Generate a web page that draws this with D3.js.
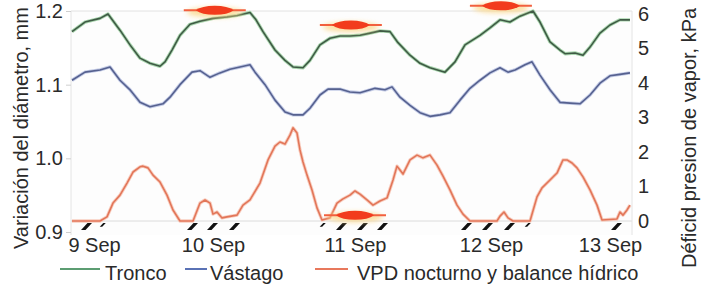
<!DOCTYPE html>
<html>
<head>
<meta charset="utf-8">
<script src="https://cdn.jsdelivr.net/npm/d3@7"></script>
<style>
  body { margin: 0; background: #fff; }
  svg text { font-family: "Liberation Sans", Arial, Helvetica, sans-serif; fill: #2a2a2a; }
</style>
</head>
<body>
<div id="chart"></div>
<script>
// hours counted from 9 Sep 00:00
var dayTicks = [0, 24, 48, 72, 96]
var dayLabels = ['9 Sep', '10 Sep', '11 Sep', '12 Sep', '13 Sep']
var diamTicks = [0.9, 1.0, 1.1, 1.2]
var vpdTicks = [0, 1, 2, 3, 4, 5, 6]
var seriesNames = ['Tronco', 'Vástago', 'VPD nocturno y balance hídrico']

// diameter variation, mm  [hour, value]
var tronco = [[-4.44,1.172],[-1.82,1.185],[1.21,1.190],[2.82,1.196],[5.24,1.174],[7.26,1.154],[9.28,1.136],[11.29,1.129],[13.31,1.125],[14.32,1.131],[15.73,1.147],[17.34,1.167],[19.36,1.182],[21.38,1.186],[24.0,1.190],[26.37,1.192],[28.06,1.194],[30.25,1.198],[31.27,1.188],[32.45,1.172],[34.48,1.147],[36.17,1.133],[37.52,1.124],[39.21,1.123],[40.39,1.133],[42.08,1.154],[43.77,1.163],[45.46,1.166],[47.15,1.166],[48.88,1.167],[50.65,1.170],[52.41,1.173],[54.18,1.172],[55.59,1.157],[57.71,1.140],[59.47,1.129],[61.24,1.123],[63.88,1.117],[65.65,1.131],[67.41,1.154],[70.06,1.167],[71.82,1.177],[73.82,1.188],[75.83,1.185],[77.85,1.193],[80.47,1.200],[81.88,1.185],[83.90,1.158],[85.92,1.147],[86.92,1.142],[88.94,1.143],[90.55,1.140],[91.97,1.151],[93.98,1.170],[96.0,1.181],[98.02,1.188],[100.03,1.188]]

var vastago = [[-4.44,1.106],[-1.82,1.117],[1.21,1.120],[3.23,1.124],[5.24,1.106],[7.26,1.093],[9.28,1.076],[11.29,1.070],[13.92,1.074],[15.33,1.083],[17.34,1.100],[19.76,1.117],[21.38,1.119],[23.40,1.110],[25.18,1.116],[26.87,1.121],[28.56,1.124],[30.25,1.127],[31.10,1.117],[32.79,1.100],[34.48,1.079],[36.17,1.063],[37.52,1.059],[39.21,1.059],[40.39,1.068],[42.08,1.086],[43.44,1.094],[45.46,1.094],[47.15,1.090],[48.88,1.089],[51.53,1.095],[53.29,1.093],[54.53,1.097],[55.94,1.083],[57.71,1.072],[59.47,1.062],[61.24,1.057],[63.0,1.059],[64.76,1.062],[66.53,1.079],[68.29,1.095],[70.06,1.106],[71.82,1.116],[73.82,1.123],[75.43,1.117],[76.84,1.120],[78.86,1.127],[80.27,1.131],[81.88,1.113],[83.90,1.093],[85.92,1.076],[87.93,1.075],[89.95,1.074],[91.97,1.086],[93.98,1.102],[96.0,1.112],[98.02,1.114],[100.03,1.116]]

// vapour pressure deficit, kPa  [hour, value]
var vpd = [[-4.44,0],[1.21,0],[2.62,0.12],[3.83,0.52],[5.24,0.75],[6.66,1.10],[7.87,1.42],[9.28,1.57],[9.88,1.59],[10.89,1.54],[11.90,1.33],[13.31,1.13],[14.72,0.75],[15.93,0.32],[17.34,0],[19.97,0],[21.38,0.52],[22.39,0.61],[23.40,0.52],[24.0,0.20],[24.68,0.26],[25.52,0.09],[26.37,0.12],[28.06,0.17],[29.07,0.46],[30.25,0.61],[31.94,1.10],[33.30,1.77],[34.48,2.17],[35.32,2.29],[36.17,2.23],[37.01,2.49],[37.52,2.70],[38.20,2.55],[38.70,2.06],[39.21,1.71],[39.89,1.33],[40.73,0.90],[41.58,0.38],[42.42,0.03],[43.77,0.09],[44.96,0.52],[45.97,0.64],[47.15,0.75],[48.0,0.87],[48.88,0.78],[50.12,0.61],[51.18,0.46],[52.41,0.58],[53.65,0.67],[54.71,1.19],[55.41,1.59],[55.94,1.48],[56.47,1.36],[57.71,1.77],[58.94,1.91],[60.0,1.83],[61.24,1.91],[62.47,1.62],[63.53,1.30],[64.76,0.90],[66.0,0.46],[67.06,0.20],[68.29,0],[73.21,0],[73.82,0.14],[74.62,0.26],[75.43,0.09],[76.44,0],[79.87,0],[81.28,0.70],[82.29,0.96],[83.90,1.19],[85.31,1.39],[86.52,1.77],[87.33,1.77],[88.34,1.68],[89.34,1.54],[90.55,1.28],[91.97,0.90],[93.38,0.46],[94.39,0.03],[97.41,0.06],[98.02,0.26],[98.62,0.17],[99.43,0.32],[100.03,0.46]]

// black marks along the base (hours)
var nightMarks = [-1.41, 19.97, 24.0, 27.72, 45.80, 49.41, 52.94, 67.76, 71.47, 75.83, 97.41]
var partialMarks = [1.82, 42.59, 79.46]

// red markers: [hour, value]
var eventsDiam = [[24.3, 1.201], [47.3, 1.181], [74.0, 1.207]]
var eventsVpd = [[48.0, 0.17]]

var width = 706
var height = 290
var plot = { left: 71, right: 632, top: 11, bottom: 235 }

var svg = d3
  .select('#chart')
  .append('svg')
  .attr('width', width)
  .attr('height', height)

// scanned figure: day spacing is not even, so piecewise scale
var x = d3
  .scaleLinear()
  .domain([-4.44, 0, 24, 48, 72, 96, 100.44])
  .range([72, 94, 213, 355, 491, 610, 632])

var yDiam = d3.scaleLinear().domain([0.9, 1.2]).range([232, 11])
var yVpd = d3.scaleLinear().domain([0, 6]).range([221, 14])

var defs = svg.append('defs')
defs
  .append('filter')
  .attr('id', 'glow')
  .attr('x', '-50%')
  .attr('y', '-100%')
  .attr('width', '200%')
  .attr('height', '300%')
  .append('feGaussianBlur')
  .attr('stdDeviation', 2.5)

// plot background + frame
svg
  .append('rect')
  .attr('x', plot.left)
  .attr('y', plot.top)
  .attr('width', plot.right - plot.left)
  .attr('height', plot.bottom - plot.top)
  .attr('fill', '#fdfdfd')

svg
  .append('line')
  .attr('x1', plot.left).attr('x2', plot.right)
  .attr('y1', yDiam(1.2)).attr('y2', yDiam(1.2))
  .attr('stroke', '#e2e2e2')
svg
  .append('line')
  .attr('x1', plot.left).attr('x2', plot.right)
  .attr('y1', yVpd(0)).attr('y2', yVpd(0))
  .attr('stroke', '#dcdcdc')
svg
  .selectAll('.vframe')
  .data([plot.left, plot.right])
  .enter()
  .append('line')
  .attr('x1', d => d).attr('x2', d => d)
  .attr('y1', plot.top).attr('y2', plot.bottom)
  .attr('stroke', '#e4e4e4')

// axes
var leftAxis = svg
  .append('g')
  .attr('transform', 'translate(' + plot.left + ',0)')
  .call(d3.axisLeft(yDiam).tickValues(diamTicks).tickFormat(d3.format('.1f')).tickSize(5).tickPadding(3))
var rightAxis = svg
  .append('g')
  .attr('transform', 'translate(' + plot.right + ',0)')
  .call(d3.axisRight(yVpd).tickValues(vpdTicks).tickFormat(d3.format('d')).tickSize(0).tickPadding(6))
var bottomAxis = svg
  .append('g')
  .attr('transform', 'translate(0,' + yDiam(0.9) + ')')
  .call(d3.axisBottom(x).tickValues(dayTicks).tickFormat((d, i) => dayLabels[i]).tickSize(0).tickPadding(6))

;[leftAxis, rightAxis, bottomAxis].forEach(function(g) {
  g.select('.domain').remove()
  g.selectAll('.tick line').attr('stroke', '#cfcfcf')
  g.selectAll('text').attr('font-size', 20).attr('fill', '#2a2a2a')
})

// axis titles
svg
  .append('text')
  .attr('transform', 'translate(28,249) rotate(-90)')
  .attr('font-size', 20)
  .text('Variación del diámetro, mm')
svg
  .append('text')
  .attr('transform', 'translate(696,268) rotate(-90)')
  .attr('font-size', 20)
  .text('Déficid presion de vapor, kPa')

// lines
var lineDiam = d3.line().x(d => x(d[0])).y(d => yDiam(d[1]))
var lineVpd = d3.line().x(d => x(d[0])).y(d => yVpd(d[1]))

var traces = [
  { data: vpd, gen: lineVpd, halo: '#f8cdbf', color: '#e27659' },
  { data: vastago, gen: lineDiam, halo: '#c3cbe6', color: '#56618f' },
  { data: tronco, gen: lineDiam, halo: '#a9d6ae', color: '#3f5a45' }
]

traces.forEach(function(t) {
  svg
    .append('path')
    .datum(t.data)
    .attr('d', t.gen)
    .attr('fill', 'none')
    .attr('stroke', t.halo)
    .attr('stroke-width', 3.4)
    .attr('stroke-linejoin', 'round')
  svg
    .append('path')
    .datum(t.data)
    .attr('d', t.gen)
    .attr('fill', 'none')
    .attr('stroke', t.color)
    .attr('stroke-width', 1.6)
    .attr('stroke-linejoin', 'round')
})

// black hatch marks at the base
var markY = yVpd(0) + 2
function markPath(cx, s) {
  return 'M' + (cx - 6 * s) + ',' + (markY + 7 * s) +
    'L' + (cx + 0.5 * s) + ',' + markY +
    'L' + (cx + 5 * s) + ',' + markY +
    'L' + (cx - 1.5 * s) + ',' + (markY + 7 * s) + 'Z'
}
svg
  .selectAll('.mark')
  .data(nightMarks)
  .enter()
  .append('path')
  .attr('class', 'mark')
  .attr('d', d => markPath(x(d), 1))
  .attr('fill', '#111')
svg
  .selectAll('.pmark')
  .data(partialMarks)
  .enter()
  .append('path')
  .attr('class', 'pmark')
  .attr('d', d => markPath(x(d), 0.55))
  .attr('fill', '#111')

// red markers
function drawEvent(cx, cy) {
  var g = svg.append('g').attr('transform', 'translate(' + cx + ',' + cy + ')')
  g.append('ellipse')
    .attr('cx', 0).attr('cy', 2)
    .attr('rx', 28).attr('ry', 5)
    .attr('fill', '#fbd88c')
    .attr('opacity', 0.85)
    .attr('filter', 'url(#glow)')
  g.append('line')
    .attr('x1', -31).attr('x2', 31)
    .attr('y1', 0).attr('y2', 0)
    .attr('stroke', '#f2603e')
    .attr('stroke-width', 2)
  g.append('path')
    .attr('d', 'M-19,0 Q-13,-4.5 0,-4.5 Q13,-4.5 19,0 Q13,4.5 0,4.5 Q-13,4.5 -19,0Z')
    .attr('fill', '#f23c1d')
}
eventsDiam.forEach(d => drawEvent(x(d[0]), yDiam(d[1])))
eventsVpd.forEach(d => drawEvent(x(d[0]), yVpd(d[1])))

// legend
var legendColors = ['#5c9d72', '#5a72b5', '#e8785c']
var legendPos = [[60, 100, 105], [185, 207, 210], [315, 348, 357]]
var legend = svg.append('g')
seriesNames.forEach(function(name, i) {
  var p = legendPos[i]
  legend.append('line')
    .attr('x1', p[0]).attr('x2', p[1])
    .attr('y1', 269).attr('y2', 269)
    .attr('stroke', legendColors[i])
    .attr('stroke-width', 2)
  legend.append('text')
    .attr('x', p[2])
    .attr('y', 280)
    .attr('font-size', 20)
    .text(name)
})
</script>
</body>
</html>
